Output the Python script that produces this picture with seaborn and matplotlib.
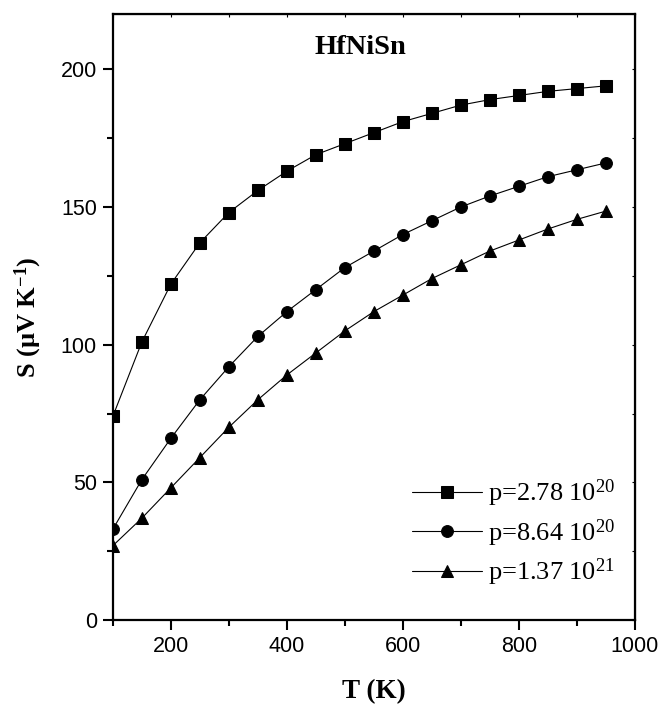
import numpy as np
import pandas as pd
import matplotlib.pyplot as plt
import seaborn as sns
from matplotlib.ticker import MultipleLocator

#%% data
T = [100, 150, 200, 250, 300, 350, 400, 450, 500, 550, 600, 650, 700, 750, 800, 850, 900, 950]
s_p1 = [74, 101, 122, 137, 148, 156, 163, 169, 173, 177, 181, 184, 187, 189, 190.5, 192, 193, 194]
s_p2 = [33, 51, 66, 80, 92, 103, 112, 120, 128, 134, 140, 145, 150, 154, 157.5, 161, 163.5, 166]
s_p3 = [27, 37, 48, 59, 70, 80, 89, 97, 105, 112, 118, 124, 129, 134, 138, 142, 145.5, 148.5]
labels = ['p=2.78 10$^{20}$', 'p=8.64 10$^{20}$', 'p=1.37 10$^{21}$']

df = pd.concat([pd.DataFrame({'T': T, 'S': s, 'sample': l})
                for s, l in zip([s_p1, s_p2, s_p3], labels)], ignore_index=True)

#%% figure
sns.set_style('ticks')
plt.rcParams['font.family'] = ['Liberation Sans', 'DejaVu Sans']
plt.rcParams['mathtext.fontset'] = 'custom'
plt.rcParams['mathtext.rm'] = 'Liberation Serif'
plt.rcParams['mathtext.it'] = 'Liberation Serif:italic'
plt.rcParams['mathtext.bf'] = 'Liberation Serif:bold'
for k in ['text.color', 'axes.labelcolor', 'xtick.color', 'ytick.color', 'axes.edgecolor']:
    plt.rcParams[k] = 'k'

fig = plt.figure(figsize=(6.64, 7.06), dpi=100)
ax = fig.add_axes([0.170, 0.1218, 0.786, 0.858])

sns.lineplot(data=df, x='T', y='S', hue='sample', style='sample',
             palette=['k', 'k', 'k'], markers=['s', 'o', '^'], dashes=False,
             markersize=8.5, markeredgecolor='k', linewidth=0.8, ax=ax)

ax.set_xlim(100, 1000)
ax.set_ylim(0, 220)
ax.xaxis.set_major_locator(MultipleLocator(200))
ax.xaxis.set_minor_locator(MultipleLocator(100))
ax.yaxis.set_major_locator(MultipleLocator(50))
ax.yaxis.set_minor_locator(MultipleLocator(25))
ax.tick_params(which='major', length=7.5, width=1.5, labelsize=15.5, direction='out', pad=4)
ax.tick_params(which='minor', length=4, width=1.5, direction='out')
for sp in ax.spines.values():
    sp.set_linewidth(1.6)
    sp.set_visible(True)
    sp.set_color('k')

# small inward ticks on top and right, no labels
axt = ax.secondary_xaxis('top')
axt.xaxis.set_major_locator(MultipleLocator(200))
axt.xaxis.set_minor_locator(MultipleLocator(100))
axt.tick_params(which='both', direction='in', length=2, width=0.8, labeltop=False)
axr = ax.secondary_yaxis('right')
axr.yaxis.set_major_locator(MultipleLocator(50))
axr.yaxis.set_minor_locator(MultipleLocator(25))
axr.tick_params(which='both', direction='in', length=2, width=0.8, labelright=False)

serif = ['Liberation Serif', 'DejaVu Serif']
ax.set_xlabel('T (K)', family=serif, fontweight='bold', fontsize=19.5, labelpad=16)
ax.set_ylabel('S (µV K$^{\\mathbf{-1}}$)', family=serif, fontweight='bold', fontsize=19, labelpad=12)
ax.text(527, 208, 'HfNiSn', family=serif, fontweight='bold', fontsize=20.5,
        ha='center', va='center')

leg = ax.legend(loc='center left', bbox_to_anchor=(0.573, 0.144), frameon=False,
                borderpad=0, borderaxespad=0,
                handlelength=2.65, handletextpad=0.25, labelspacing=0.3,
                prop={'family': serif, 'size': 19}, title=None)

fig.savefig('out.png', dpi=100, facecolor='w')
